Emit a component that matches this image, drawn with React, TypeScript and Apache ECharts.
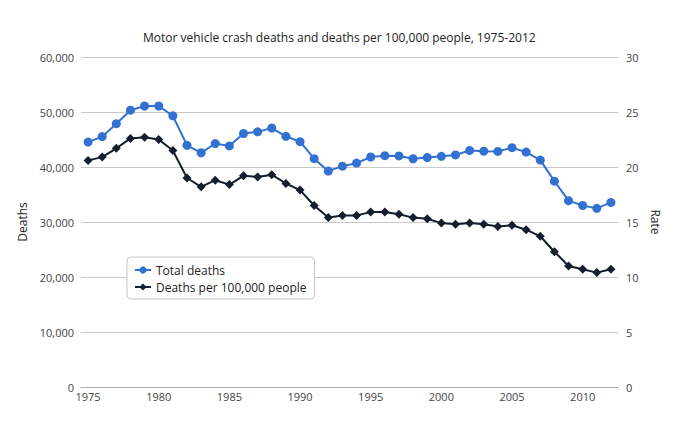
import React, { useEffect, useRef } from "react";
import * as echarts from "echarts";

const years = [
  "1975","1976","1977","1978","1979","1980","1981","1982","1983","1984",
  "1985","1986","1987","1988","1989","1990","1991","1992","1993","1994",
  "1995","1996","1997","1998","1999","2000","2001","2002","2003","2004",
  "2005","2006","2007","2008","2009","2010","2011","2012",
];
const totalDeaths = [
  44525, 45523, 47878, 50331, 51093, 51091, 49301, 43945, 42589, 44257,
  43825, 46087, 46390, 47087, 45582, 44599, 41508, 39250, 40150, 40716,
  41817, 42065, 42013, 41501, 41717, 41945, 42196, 43005, 42884, 42836,
  43510, 42708, 41259, 37423, 33883, 32999, 32479, 33561,
];
const ratePer100k = [
  20.6, 20.9, 21.7, 22.6, 22.7, 22.5, 21.5, 19.0, 18.2, 18.8,
  18.4, 19.2, 19.1, 19.3, 18.5, 17.9, 16.5, 15.4, 15.6, 15.6,
  15.9, 15.9, 15.7, 15.4, 15.3, 14.9, 14.8, 14.9, 14.8, 14.6,
  14.7, 14.3, 13.7, 12.3, 11.0, 10.7, 10.4, 10.7,
];
const seriesNames = ["Total deaths", "Deaths per 100,000 people"];
const titleText = "Motor vehicle crash deaths and deaths per 100,000 people, 1975-2012";

const FONT = "'Open Sans', 'DejaVu Sans', sans-serif";
const BLUE = "#3271d1";
const DARK = "#141e2c";

export default function App() {
  const ref = useRef<HTMLDivElement>(null);
  useEffect(() => {
    if (!ref.current) return;
    const chart = echarts.init(ref.current, undefined, { renderer: "svg" });
    chart.setOption({
      animation: false,
      textStyle: { fontFamily: FONT },
      title: {
        text: titleText,
        left: 143,
        top: 31,
        padding: 0,
        textStyle: { fontFamily: FONT, fontSize: 12, fontWeight: "normal", color: "#222" },
      },
      grid: { left: 81, right: 74, top: 57, bottom: 38, containLabel: false },
      legend: {
        orient: "vertical",
        left: 127,
        top: 257,
        padding: [6, 8, 5, 7],
        itemWidth: 16,
        itemHeight: 9,
        itemGap: 3,
        borderColor: "#c4c4c4",
        borderWidth: 1,
        borderRadius: 4,
        backgroundColor: "#fff",
        textStyle: { fontFamily: FONT, fontSize: 12, color: "#222", lineHeight: 14 },
        data: seriesNames,
      },
      xAxis: {
        type: "category",
        data: years,
        boundaryGap: true,
        axisLine: { lineStyle: { color: "#aaa", width: 1 } },
        axisTick: { alignWithLabel: true, interval: 4, length: 4, lineStyle: { color: "#aaa" } },
        axisLabel: { interval: 4, color: "#444", fontSize: 11, fontFamily: FONT, margin: 4 },
        splitLine: { show: false },
      },
      yAxis: [
        {
          type: "value",
          min: 0,
          max: 60000,
          interval: 10000,
          name: "Deaths",
          nameLocation: "middle",
          nameGap: 44,
          nameTextStyle: { fontFamily: FONT, fontSize: 12, color: "#222" },
          axisLine: { show: false },
          axisTick: { show: false },
          axisLabel: {
            color: "#444",
            fontSize: 11,
            fontFamily: FONT,
            margin: 7,
            formatter: (v: number) => v.toLocaleString("en-US"),
          },
          splitLine: { lineStyle: { color: "#c8c8c8", width: 1 } },
        },
        {
          type: "value",
          min: 0,
          max: 30,
          interval: 5,
          name: "Rate",
          nameLocation: "middle",
          nameGap: 29,
          nameRotate: -90,
          nameTextStyle: { fontFamily: FONT, fontSize: 12, color: "#222" },
          axisLine: { show: false },
          axisTick: { show: false },
          axisLabel: { color: "#444", fontSize: 11, fontFamily: FONT, margin: 8 },
          splitLine: { show: false },
        },
      ],
      series: [
        {
          name: seriesNames[0],
          type: "line",
          yAxisIndex: 0,
          data: totalDeaths,
          symbol: "circle",
          symbolSize: 9,
          itemStyle: { color: BLUE },
          lineStyle: { color: BLUE, width: 2 },
        },
        {
          name: seriesNames[1],
          type: "line",
          yAxisIndex: 1,
          data: ratePer100k,
          symbol: "diamond",
          symbolSize: 9,
          itemStyle: { color: DARK },
          lineStyle: { color: DARK, width: 2 },
        },
      ],
    });
    return () => chart.dispose();
  }, []);
  return (
    <div
      ref={ref}
      style={{ position: "absolute", left: 0, top: 0, width: 692, height: 425 }}
    />
  );
}
